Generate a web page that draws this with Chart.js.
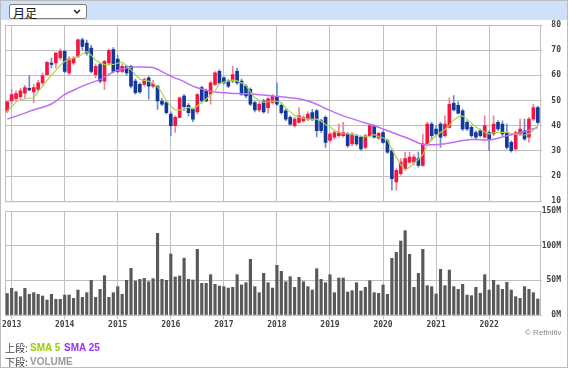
<!DOCTYPE html>
<html>
<head>
<meta charset="utf-8">
<script src="https://cdn.jsdelivr.net/npm/chart.js@4.4.0/dist/chart.umd.min.js"></script>
<style>
  html, body { margin: 0; padding: 0; background: #fff; }
  body { width: 569px; height: 369px; position: relative; overflow: hidden; font-family: "Liberation Sans", Arial, sans-serif; }
  #frame { position: absolute; left: 0; top: 0; width: 568px; height: 368px; box-sizing: border-box; border: 1px solid #bcbcbc; pointer-events: none; }
  #head { position: absolute; left: 1px; top: 1px; width: 566px; height: 19px; background: #cfe0fa; }
  #sel { position: absolute; left: 9px; top: 4px; width: 78px; height: 15px; box-sizing: border-box; border: 1px solid #808080; border-radius: 2px; background: #fff; }
  #sel span { position: absolute; left: 3px; top: -1px; font: 12px "Noto Sans CJK JP", sans-serif; color: #111; }
  #sel svg { position: absolute; right: 5px; top: 4px; }
  canvas { position: absolute; left: 0; }
  .lg { position: absolute; font-size: 10px; line-height: 12px; white-space: nowrap; }
  .lbl { color: #444; font-family: "Noto Sans CJK JP", sans-serif; }
  .b { font-weight: bold; }
  #credit { position: absolute; left: 525px; top: 328px; font-size: 8px; color: #888; }
</style>
</head>
<body>
<div id="head"></div>
<div id="sel"><span>月足</span><svg width="8" height="6"><polyline points="1,1 4,4 7,1" fill="none" stroke="#222" stroke-width="1.5"/></svg></div>
<canvas id="priceChart" width="569" height="215" style="top:0"></canvas>
<canvas id="volumeChart" width="569" height="135" style="top:205px"></canvas>
<div id="credit">© Refinitiv</div>
<div class="lg lbl" style="left:5px;top:342px">上段:</div>
<div class="lg b" style="left:30px;top:342px;color:#99cc00">SMA 5</div>
<div class="lg b" style="left:64px;top:342px;color:#9b30f5">SMA 25</div>
<div class="lg lbl" style="left:5px;top:356px">下段:</div>
<div class="lg b" style="left:30px;top:356px;color:#9a9a9a">VOLUME</div>
<div id="frame"></div>
<script>
// monthly candles, Dec 2012 .. Dec 2022
const categories = [];
for (let k = 0; k < 121; k++) {
    const m = (11 + k) % 12 + 1;
    const y = 2012 + Math.floor((11 + k) / 12);
    categories.push(y + '/' + String(m).padStart(2, '0'));
}
const yearLabels = ['2013', '2014', '2015', '2016', '2017', '2018', '2019', '2020', '2021', '2022'];

const opens = [45.9, 49.8, 50.7, 51.5, 52.9, 54.8, 53.4, 54.4, 57.0, 60.3, 64.9, 64.9, 66.9, 69.5, 61.0, 64.9, 67.5, 74.1, 72.8, 70.8,
    60.3, 64.3, 57.7, 64.9, 70.2, 66.5, 61.6, 63.6, 63.6, 57.7, 56.4, 56.4, 59.0, 55.7, 55.7, 49.8, 49.2, 44.6, 40.0, 43.3,
    51.8, 48.1, 46.5, 45.5, 55.1, 53.8, 52.4, 56.4, 61.6, 59.0, 57.7, 57.7, 61.6, 57.7, 55.7, 54.4, 49.2, 46.3, 49.8, 47.2,
    49.2, 51.5, 48.1, 45.9, 43.3, 40.0, 41.3, 41.9, 42.6, 45.2, 45.9, 41.9, 43.3, 34.1, 35.4, 36.0, 36.0, 36.7, 32.8, 36.0,
    35.4, 31.4, 36.0, 39.7, 35.0, 37.3, 34.1, 30.1, 17.7, 20.9, 22.9, 25.5, 25.5, 26.9, 24.2, 32.8, 40.6, 38.7, 40.6, 36.0,
    39.3, 48.9, 48.1, 45.9, 41.3, 39.3, 37.3, 38.0, 35.4, 37.3, 36.7, 41.3, 40.6, 37.3, 33.4, 30.8, 36.7, 38.0, 35.4, 42.6,
    47.2];
const highs = [49.8, 54.4, 53.8, 54.8, 56.0, 59.9, 56.4, 58.0, 61.0, 65.5, 66.9, 69.0, 70.5, 70.0, 67.5, 67.5, 74.5, 74.8, 74.0, 72.0,
    64.5, 65.0, 66.0, 70.5, 71.0, 68.0, 64.5, 64.0, 64.0, 58.5, 57.0, 59.0, 59.5, 58.0, 56.0, 51.0, 50.0, 45.5, 44.0, 51.5,
    52.5, 48.8, 47.0, 52.8, 55.7, 54.5, 57.7, 61.5, 62.3, 59.5, 58.3, 63.6, 62.9, 58.5, 56.4, 55.0, 49.8, 49.5, 50.5, 51.2,
    52.5, 57.0, 48.8, 46.5, 43.9, 43.3, 47.2, 44.0, 45.5, 46.5, 46.5, 42.6, 43.9, 37.3, 38.0, 40.6, 41.3, 37.3, 37.3, 36.7,
    36.0, 36.7, 40.6, 40.3, 37.5, 38.0, 34.7, 30.8, 23.0, 26.9, 29.5, 29.5, 28.5, 29.5, 36.7, 41.3, 41.3, 40.0, 41.3, 43.9,
    51.1, 52.0, 49.5, 46.5, 41.9, 40.0, 38.0, 38.7, 43.9, 38.0, 43.9, 42.0, 41.9, 40.6, 34.0, 38.0, 42.6, 42.6, 43.3, 48.5,
    47.8];
const lows = [45.2, 48.5, 49.8, 50.5, 51.0, 53.8, 49.2, 53.5, 56.0, 60.0, 62.9, 62.9, 66.0, 61.0, 60.3, 64.0, 67.0, 70.0, 68.0, 61.0,
    59.0, 57.0, 54.4, 64.0, 61.0, 61.0, 61.0, 60.0, 55.0, 52.5, 52.8, 55.7, 50.5, 55.0, 46.5, 48.0, 44.6, 36.0, 37.3, 43.0,
    46.0, 43.9, 41.6, 44.6, 49.0, 49.5, 48.5, 56.0, 56.4, 56.5, 55.0, 57.0, 56.4, 52.0, 51.0, 48.0, 45.5, 45.5, 45.0, 45.0,
    48.5, 48.0, 44.6, 42.0, 40.0, 39.4, 41.0, 41.3, 42.0, 42.0, 35.5, 37.3, 31.4, 33.4, 34.7, 35.4, 35.4, 31.4, 32.1, 32.1,
    30.2, 30.8, 35.4, 35.0, 34.5, 33.0, 29.0, 14.4, 14.4, 20.2, 22.3, 25.0, 24.5, 23.5, 23.8, 32.1, 34.1, 36.0, 31.4, 35.4,
    39.0, 45.9, 44.6, 38.0, 38.0, 35.4, 34.7, 35.4, 35.0, 30.1, 36.0, 38.0, 36.0, 30.8, 29.5, 30.1, 36.0, 34.1, 33.4, 42.0,
    40.6];
const closes = [49.5, 52.4, 52.8, 53.8, 55.1, 54.2, 55.1, 57.0, 59.9, 65.2, 64.3, 68.8, 69.5, 61.6, 66.5, 66.9, 74.1, 71.5, 68.8, 61.6,
    63.6, 57.7, 65.6, 69.9, 61.6, 61.6, 63.6, 61.0, 55.7, 53.1, 53.4, 58.3, 55.7, 56.6, 49.8, 48.5, 45.2, 40.0, 43.3, 51.1,
    47.6, 45.2, 42.6, 52.4, 49.8, 49.8, 57.0, 61.0, 57.0, 57.0, 55.7, 60.3, 57.0, 52.4, 51.8, 48.5, 46.3, 48.5, 45.5, 50.7,
    51.8, 48.5, 45.2, 42.6, 40.6, 42.6, 43.9, 43.3, 44.6, 42.6, 38.0, 38.0, 33.4, 36.7, 37.3, 37.3, 37.3, 32.1, 36.7, 32.8,
    30.8, 36.0, 40.0, 35.4, 37.0, 33.4, 29.5, 19.0, 22.3, 25.5, 26.9, 27.5, 27.5, 24.2, 32.8, 40.6, 36.0, 36.7, 35.4, 40.6,
    48.5, 46.3, 45.0, 38.7, 38.7, 36.0, 35.4, 36.0, 40.0, 34.7, 40.6, 38.7, 36.7, 31.4, 30.1, 37.3, 38.7, 34.7, 42.6, 47.2,
    41.3];
const sma5 = [45.9, 47.5, 49.5, 50.2, 50.6, 51.0, 51.1, 53.5, 55.7, 58.0, 60.0, 62.0, 64.0, 65.6, 66.2, 66.9, 67.5, 68.5, 69.5, 68.0,
    66.0, 65.0, 64.3, 64.3, 64.3, 64.8, 65.2, 63.8, 62.3, 60.3, 58.5, 58.0, 57.7, 56.8, 55.5, 53.0, 49.8, 47.8, 46.3, 46.2,
    46.5, 47.3, 46.7, 47.8, 49.3, 50.5, 52.3, 53.8, 56.7, 57.3, 57.7, 58.1, 57.8, 57.0, 56.0, 53.5, 51.1, 50.2, 49.3, 49.5,
    49.8, 49.7, 49.2, 47.0, 45.5, 44.2, 43.3, 43.0, 42.6, 42.6, 42.6, 41.8, 40.5, 39.5, 38.2, 37.3, 37.0, 36.7, 36.5, 36.1,
    35.8, 35.6, 35.7, 36.5, 35.6, 35.2, 34.3, 30.5, 27.5, 24.5, 22.3, 23.5, 25.3, 26.5, 28.5, 32.2, 34.5, 36.0, 37.3, 38.5,
    40.0, 42.3, 43.5, 43.9, 42.6, 41.0, 39.5, 38.5, 37.5, 36.7, 37.2, 37.3, 37.4, 37.3, 36.9, 36.7, 36.2, 36.3, 36.8, 38.2,
    40.0];
const sma25 = [42.6, 43.2, 43.8, 44.4, 45.0, 45.7, 46.3, 46.8, 47.3, 47.9, 48.6, 49.8, 51.1, 52.4, 53.3, 54.1, 54.9, 55.7, 56.4, 57.0,
    57.7, 58.3, 59.3, 60.4, 61.4, 62.0, 62.5, 62.9, 63.2, 63.3, 63.3, 63.3, 63.2, 63.1, 62.4, 61.5, 60.6, 59.7, 58.9, 58.3,
    57.5, 56.5, 55.7, 55.1, 54.6, 54.1, 53.7, 53.4, 53.2, 53.1, 53.0, 52.8, 52.8, 52.7, 52.7, 52.7, 52.5, 52.3, 52.2, 52.0,
    51.8, 51.7, 51.5, 51.3, 51.1, 50.9, 50.7, 50.3, 49.8, 49.2, 48.5, 47.7, 46.8, 46.1, 45.3, 44.6, 43.9, 43.3, 42.8, 42.2,
    41.6, 41.1, 40.6, 40.0, 39.4, 38.7, 38.0, 37.4, 36.7, 36.0, 35.4, 34.7, 33.9, 33.1, 32.5, 32.4, 32.4, 32.4, 32.6, 32.8,
    33.1, 33.4, 33.8, 34.1, 34.3, 34.5, 34.5, 34.4, 34.3, 34.3, 34.6, 35.0, 35.5, 36.0, 36.4, 36.8, 37.2, 37.6, 38.2, 38.8,
    39.3];
// volume in millions
const volumes = [31, 38.5, 33.7, 26.4, 38.5, 29.8, 32.2, 29.8, 27.4, 21.6, 29.8, 22.6, 22.6, 28.8, 28.8, 24, 36, 25.5, 32.2, 50,
    25.5, 37, 56.7, 25.5, 32.2, 40.9, 29.8, 50, 67.3, 49, 51.4, 52.9, 48, 52.4, 117.8, 51.4, 50, 88, 54.8, 56.3,
    82, 51.4, 50.5, 94.7, 45.7, 45.7, 58.2, 44.2, 41.8, 40.9, 38.9, 39.9, 58.2, 43.3, 46.6, 80.3, 40.9, 32.2, 60.1, 46.6,
    38.9, 71.6, 63, 48, 55.3, 39.9, 54.3, 48, 40.9, 36, 66.8, 51.4, 46.6, 58.2, 32.2, 53.4, 53.4, 33.2, 35.1, 46.6,
    34.6, 39.9, 49.5, 32.2, 31.3, 43.3, 29.8, 81.7, 90.4, 106.7, 121.6, 87.5, 39.9, 60.1, 94.7, 42.3, 40.9, 30.3, 65.9, 42.3,
    64.9, 40.9, 37, 44.2, 28.8, 27.9, 39.9, 31.3, 58.2, 36, 50, 43.3, 37, 47.1, 36, 26.4, 24, 40.9, 37, 32.2,
    23.1];

const UP = '#f5163f', UP_WICK = '#f38099';
const DOWN = '#11399b', DOWN_WICK = '#6d8bd2';
const GRID = '#bfbfbf';

Chart.defaults.font.family = '"DejaVu Sans Mono", monospace';
Chart.defaults.font.size = 8;
Chart.defaults.font.weight = 'bold';
Chart.defaults.color = '#444';

// outline of the plot area
const frameBox = {
    id: 'frameBox',
    beforeDatasetsDraw(chart) {
        const a = chart.chartArea, ctx = chart.ctx;
        ctx.save();
        ctx.strokeStyle = GRID;
        ctx.lineWidth = 1;
        ctx.strokeRect(a.left + 0.5, a.top + 0.5, a.right - a.left, a.bottom - a.top);
        ctx.restore();
    }
};

const keepJanuary = (scale) => {
    scale.ticks = scale.ticks.filter(t => categories[t.value].endsWith('/01'));
};

function xScale(showLabels) {
    return {
        type: 'category',
        offset: true,
        afterBuildTicks: keepJanuary,
        grid: { offset: false, color: GRID, drawTicks: showLabels, tickLength: 4 },
        border: { display: false },
        ticks: {
            display: showLabels, autoSkip: false, maxRotation: 0, padding: 1,
            callback: (v) => yearLabels.find(y => categories[v].startsWith(y))
        },
        afterFit: showLabels ? (s) => { s.height = 20; } : (s) => { s.height = 0; }
    };
}

const isUp = opens.map((o, i) => closes[i] >= o);

new Chart(document.getElementById('priceChart'), {
    type: 'bar',
    data: {
        labels: categories,
        datasets: [
            { type: 'line', data: sma5, borderColor: '#a9d553', borderWidth: 1.2, pointRadius: 0, order: 0 },
            { type: 'line', data: sma25, borderColor: '#c06cf6', borderWidth: 1.5, pointRadius: 0, order: 1 },
            {
                data: opens.map((o, i) => [o, closes[i]]),
                backgroundColor: isUp.map(u => u ? UP : DOWN),
                barThickness: 3, grouped: false, minBarLength: 1, order: 2
            },
            {
                data: lows.map((l, i) => [l, highs[i]]),
                backgroundColor: isUp.map(u => u ? UP_WICK : DOWN_WICK),
                barThickness: 1, grouped: false, order: 3
            }
        ]
    },
    options: {
        responsive: false, animation: false, devicePixelRatio: 1,
        layout: { padding: { left: 5, right: 8, top: 25, bottom: 11 } },
        plugins: { legend: { display: false }, tooltip: { enabled: false } },
        scales: {
            x: xScale(false),
            y: {
                position: 'right', min: 10, max: 80,
                grid: { color: GRID, tickLength: 2 },
                border: { display: false },
                ticks: { stepSize: 10, crossAlign: 'far', padding: 9 },
                afterFit: (s) => { s.width = 21; }
            }
        }
    },
    plugins: [frameBox]
});

new Chart(document.getElementById('volumeChart'), {
    type: 'bar',
    data: {
        labels: categories,
        datasets: [{ data: volumes, backgroundColor: '#595959', barThickness: 2.5 }]
    },
    options: {
        responsive: false, animation: false, devicePixelRatio: 1,
        layout: { padding: { left: 5, right: 8, top: 6, bottom: 5 } },
        plugins: { legend: { display: false }, tooltip: { enabled: false } },
        scales: {
            x: xScale(true),
            y: {
                position: 'right', min: 0, max: 150,
                grid: { color: GRID, tickLength: 2 },
                border: { display: false },
                ticks: { stepSize: 50, crossAlign: 'far', padding: 0, callback: (v) => v + 'M' },
                afterFit: (s) => { s.width = 21; }
            }
        }
    },
    plugins: [frameBox]
});
</script>
</body>
</html>
